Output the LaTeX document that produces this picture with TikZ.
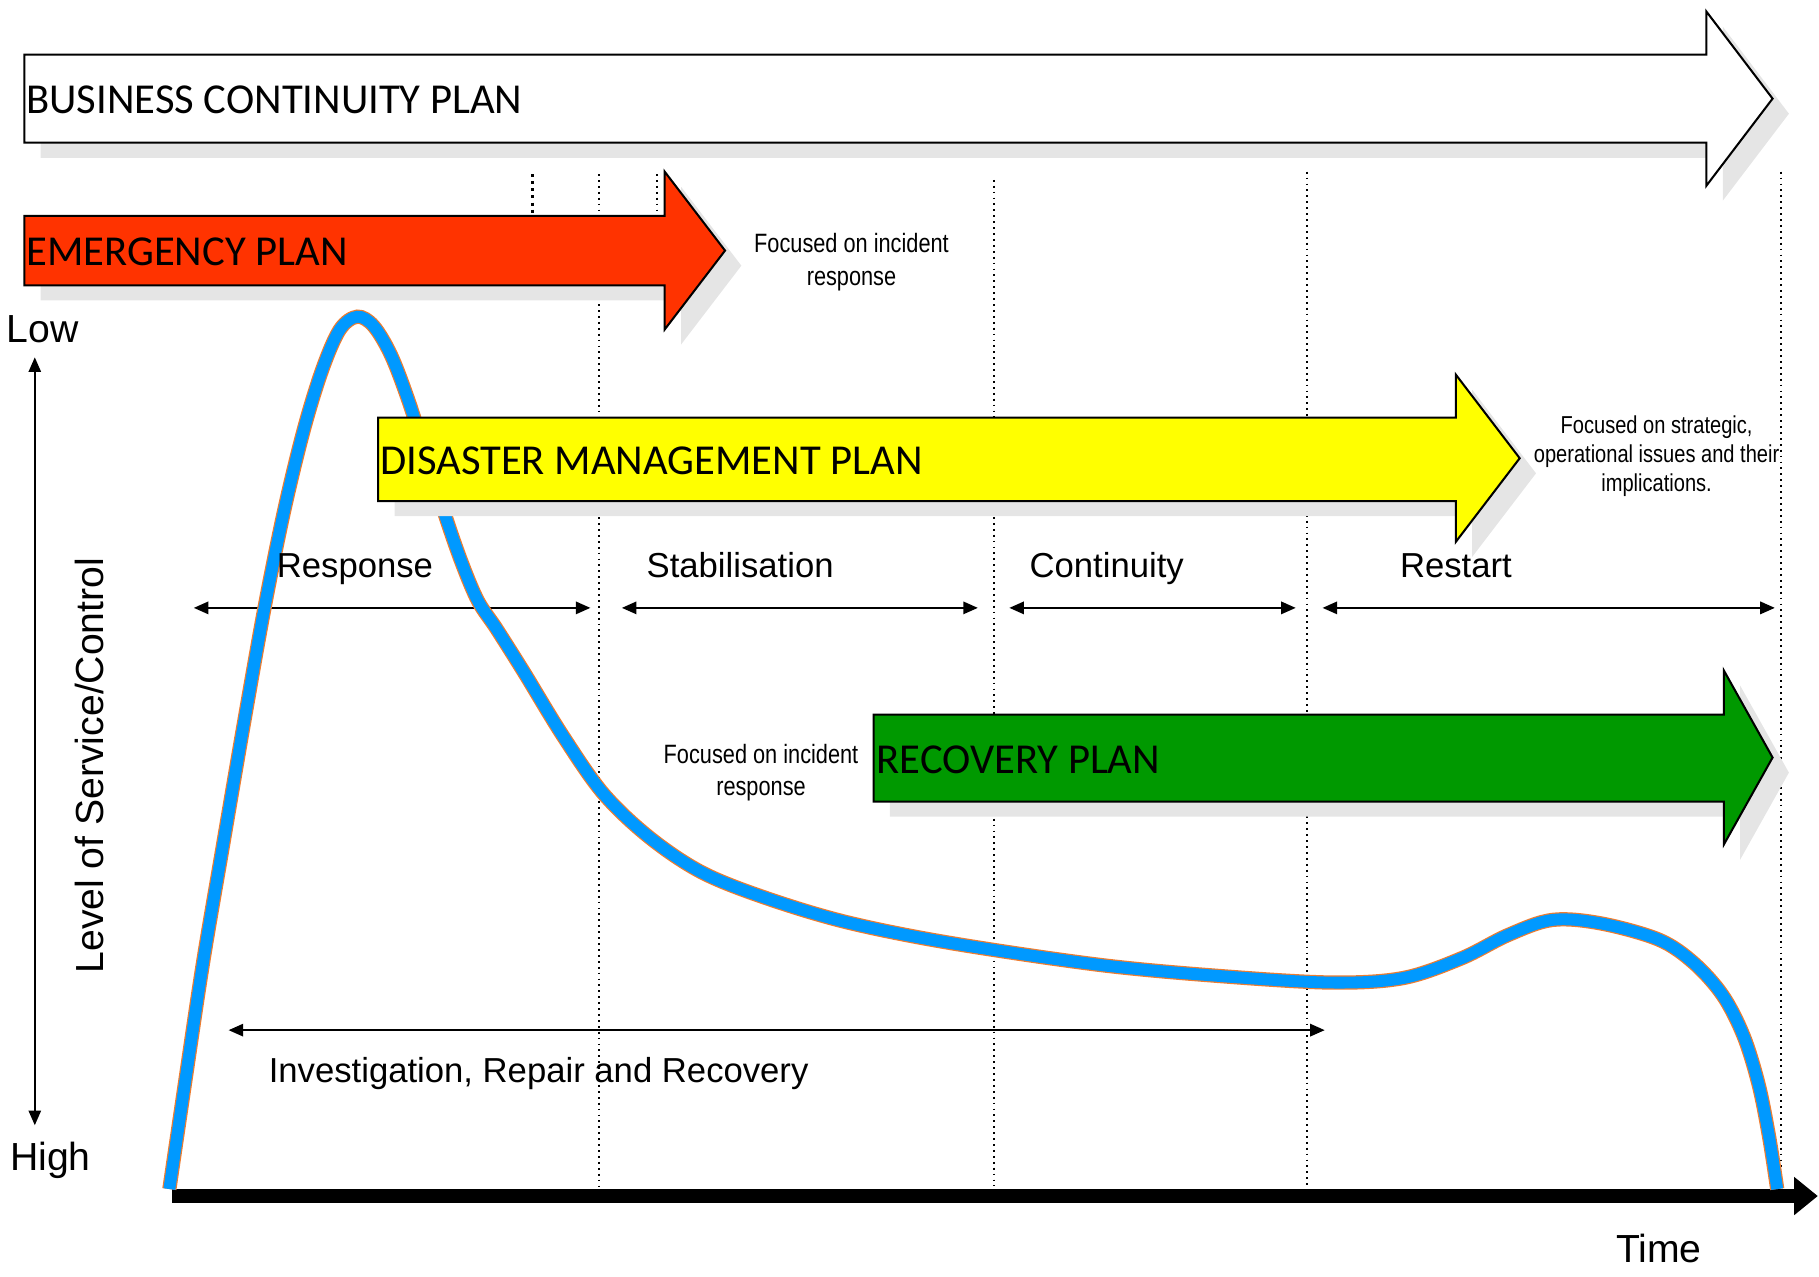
\documentclass[tikz,border=0pt]{standalone}
\usepackage{fontspec}
\setmainfont{Liberation Sans}
\newfontfamily\planfont{Carlito}
\newfontfamily\narrowfont[FakeStretch=0.82]{Liberation Sans}
\usetikzlibrary{arrows.meta,positioning}

\begin{document}
\begin{tikzpicture}[x=0.01cm, y=-0.01cm,
    planbox/.style={draw=black, line width=0.5pt,
        preaction={fill=black!10, transform canvas={xshift=4pt, yshift=-3.7pt}}},
    plantext/.style={anchor=west, inner sep=0pt, font=\planfont\fontsize{10.45}{12}\selectfont},
    note/.style={align=center, inner sep=0pt, font=\narrowfont\fontsize{6.5}{8}\selectfont},
    phase/.style={anchor=base, inner sep=0pt, font=\fontsize{8.5}{10}\selectfont},
    axislabel/.style={inner sep=0pt, font=\fontsize{9.6}{11}\selectfont},
    span/.style={{Triangle[length=3.6pt,width=3pt]}-{Triangle[length=3.6pt,width=3pt]}, line width=0.6pt},
    guide/.style={densely dotted, line width=0.45pt}]
    % Colour Palette
    \definecolor{emergencyRed}{HTML}{FF3300}
    \definecolor{disasterYellow}{HTML}{FFFF00}
    \definecolor{recoveryGreen}{HTML}{009900}
    \definecolor{levelBlue}{HTML}{0099FF}
    \definecolor{levelEdge}{HTML}{ED7D31}

    \useasboundingbox (0,0) rectangle (1568,1100);

    % --- Phase boundaries ---
    \draw[guide, line width=0.75pt] (459,150) -- (459,186);
    \foreach \x/\top/\bot in {516/150/1022, 566/150/186, 857/155/1022, 1127/148/1022, 1535/148/1022}
        \draw[guide] (\x,\top) -- (\x,\bot);

    % --- Axes ---
    \coordinate (low) at (30,308);
    \coordinate (high) at (30,970);
    \coordinate (t0) at (148,1031);
    \coordinate (t1) at (1567,1031);
    \draw[span, line width=0.5pt] (low) -- (high);
    \draw[-{Triangle[length=5.8pt,width=9pt]}, line width=3.6pt] (t0) -- (t1);

    % --- Phase spans ---
    \coordinate (resp-l) at (167,524);   \coordinate (resp-r) at (509,524);
    \coordinate (stab-l) at (536,524);   \coordinate (stab-r) at (843,524);
    \coordinate (cont-l) at (870,524);   \coordinate (cont-r) at (1117,524);
    \coordinate (rest-l) at (1140,524);  \coordinate (rest-r) at (1530,524);
    \coordinate (irr-l) at (197,888);    \coordinate (irr-r) at (1142,888);
    \draw[span] (resp-l) -- (resp-r);
    \draw[span] (stab-l) -- (stab-r);
    \draw[span] (cont-l) -- (cont-r);
    \draw[span] (rest-l) -- (rest-r);
    \draw[span] (irr-l) -- (irr-r);

    % Level of service curve
    \draw[draw=levelEdge, double=levelBlue, double distance=2.9pt, line width=0.3pt]
        plot[smooth, tension=0.55] coordinates {
        (146,1025) (160,930) (175,830) (192,730) (210,625) (228,524) (245,440)
        (262,370) (278,318) (293,284) (308,273) (322,281) (337,306) (352,345)
        (368,395) (384,445) (398,485) (412,518) (428,542) (452,580) (485,634)
        (520,684) (560,722) (605,752) (660,774) (730,795) (820,813) (950,832)
        (1060,842) (1150,847) (1210,843) (1260,826) (1300,806) (1338,793)
        (1380,796) (1430,810) (1460,830) (1485,858) (1503,893) (1516,935)
        (1525,980) (1532,1025)};

    % --- Plan arrows ---
    \draw[planbox, fill=white] (21,47) -- (1471,47) -- (1471,10) -- (1528,85)
        -- (1471,160) -- (1471,123) -- (21,123) -- cycle;
    \draw[planbox, fill=emergencyRed] (21,186) -- (573,186) -- (573,148) -- (625,216)
        -- (573,284) -- (573,246) -- (21,246) -- cycle;
    \draw[planbox, fill=disasterYellow] (326,360) -- (1255,360) -- (1255,323) -- (1310,395)
        -- (1255,467) -- (1255,432) -- (326,432) -- cycle;
    \draw[planbox, fill=recoveryGreen] (753,616) -- (1486,616) -- (1486,578) -- (1528,653)
        -- (1486,728) -- (1486,691) -- (753,691) -- cycle;

    \node[plantext] (bcp) at (22,86) {BUSINESS CONTINUITY PLAN};
    \node[plantext] (ep) at (22,217) {EMERGENCY PLAN};
    \node[plantext] (dmp) at (327,397) {DISASTER MANAGEMENT PLAN};
    \node[plantext] (rp) at (755,655) {RECOVERY PLAN};

    \node[note] (ep-note) at (734,226) {Focused on incident\\response};
    \node[note] (rp-note) at (656,666) {Focused on incident\\response};
    \node[note, font=\narrowfont\fontsize{6}{7.1}\selectfont] (dmp-note) at (1428,393)
        {Focused on strategic,\\operational issues and their\\implications.};

    % Phase names
    \node[phase] (response) at (306,498) {Response};
    \node[phase] (stabilisation) at (638,498) {Stabilisation};
    \node[phase] (continuity) at (954,498) {Continuity};
    \node[phase] (restart) at (1255,498) {Restart};
    \node[phase, anchor=base west] (irr) at (231,933) {Investigation, Repair and Recovery};

    % Axis labels
    \node[axislabel, anchor=base west] (low-label) at (5,295) {Low};
    \node[axislabel, anchor=base west] (high-label) at (8,1009) {High};
    \node[axislabel, anchor=base] (time-label) at (1430,1088) {Time};
    \node[axislabel, anchor=base, rotate=90] (level-label) at (89,660) {Level of Service/Control};
\end{tikzpicture}
\end{document}
